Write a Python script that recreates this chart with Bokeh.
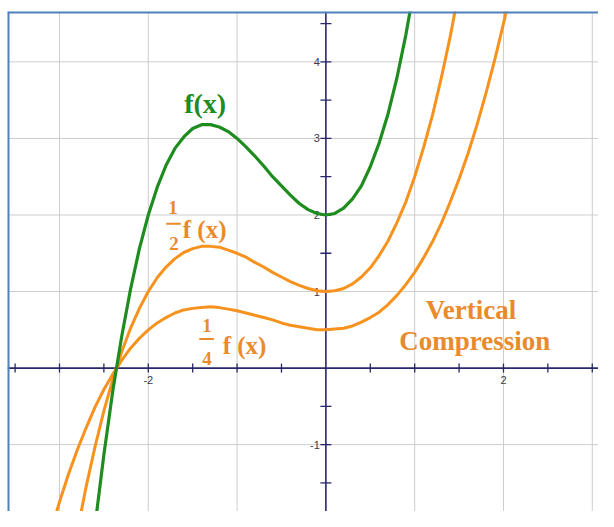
import math
from bokeh.plotting import figure
from bokeh.models import Span, Label
from bokeh.core.properties import value
from bokeh.embed import file_html
from bokeh.resources import INLINE

# ---- data ----
x_f = [-2.7, -2.6, -2.5, -2.4, -2.3, -2.2, -2.1, -2.0, -1.9, -1.8, -1.7, -1.6, -1.5,
       -1.4, -1.3, -1.2, -1.1, -1.0, -0.9, -0.8, -0.7, -0.6, -0.5, -0.4, -0.3, -0.2,
       -0.1, 0.0, 0.1, 0.2, 0.3, 0.4, 0.5, 0.6, 0.7, 0.8, 0.9, 1.0]
y_f = [-3.10, -2.06, -1.13, -0.30, 0.41, 1.03, 1.56, 2.00, 2.36, 2.65, 2.87, 3.02, 3.13,
       3.18, 3.18, 3.15, 3.09, 3.00, 2.89, 2.77, 2.64, 2.50, 2.38, 2.26, 2.15, 2.07,
       2.02, 2.00, 2.02, 2.09, 2.21, 2.38, 2.63, 2.94, 3.32, 3.79, 4.35, 5.00]

x_half = [-2.9, -2.8, -2.7, -2.6, -2.5, -2.4, -2.3, -2.2, -2.1, -2.0, -1.9, -1.8, -1.7,
          -1.6, -1.5, -1.4, -1.3, -1.2, -1.1, -1.0, -0.9, -0.8, -0.7, -0.6, -0.5, -0.4,
          -0.3, -0.2, -0.1, 0.0, 0.1, 0.2, 0.3, 0.4, 0.5, 0.6, 0.7, 0.8, 0.9, 1.0, 1.1,
          1.2, 1.3, 1.4, 1.5]
y_half = [-2.78, -2.14, -1.55, -1.03, -0.56, -0.15, 0.21, 0.52, 0.78, 1.00, 1.18, 1.32, 1.43,
          1.51, 1.56, 1.59, 1.59, 1.58, 1.54, 1.50, 1.45, 1.38, 1.32, 1.25, 1.19, 1.13,
          1.08, 1.04, 1.01, 1.00, 1.01, 1.04, 1.10, 1.19, 1.31, 1.47, 1.66, 1.90, 2.17, 2.50, 2.88,
          3.30, 3.79, 4.33, 4.94]

x_quarter = [-3.1, -3.0, -2.9, -2.8, -2.7, -2.6, -2.5, -2.4, -2.3, -2.2, -2.1, -2.0, -1.9,
             -1.8, -1.7, -1.6, -1.5, -1.4, -1.3, -1.2, -1.1, -1.0, -0.9, -0.8, -0.7, -0.6,
             -0.5, -0.4, -0.3, -0.2, -0.1, 0.0, 0.1, 0.2, 0.3, 0.4, 0.5, 0.6, 0.7, 0.8, 0.9,
             1.0, 1.1, 1.2, 1.3, 1.4, 1.5, 1.6, 1.7, 1.8, 1.9, 2.0, 2.1]
y_quarter = [-2.14, -1.75, -1.39, -1.07, -0.78, -0.51, -0.28, -0.08, 0.10, 0.26, 0.39, 0.50, 0.59,
             0.66, 0.72, 0.76, 0.78, 0.79, 0.80, 0.79, 0.77, 0.75, 0.72, 0.69, 0.66, 0.63,
             0.59, 0.56, 0.54, 0.52, 0.50, 0.50, 0.51, 0.52, 0.55, 0.60, 0.66, 0.73, 0.83, 0.95, 1.09,
             1.25, 1.44, 1.65, 1.89, 2.17, 2.47, 2.80, 3.17, 3.58, 4.02, 4.50, 5.02]

grid_x = [-3, -2, -1, 1, 2, 3]
grid_y = [-1, 1, 2, 3, 4]
x_ticks = [-3.5, -3.0, -2.5, -2.0, -1.5, -1.0, -0.5, 0.5, 1.0, 1.5, 2.0, 2.5, 3.0]
y_ticks = [-1.5, -1.0, -0.5, 0.5, 1.0, 1.5, 2.0, 2.5, 3.0, 3.5, 4.0, 4.5]
x_label_pos = [-2, 2]
x_label_txt = ["-2", "2"]
y_label_pos = [4, 3, 2, 1, -1]
y_label_txt = ["4", "3", "2", "1", "-1"]

# ---- styling ----
GREEN = "#1E8C1E"
ORANGE = "#F7921E"
ORANGE_TXT = "#E98A2C"
NAVY = "#27276A"
GRID = "#CDCDCD"
BORDER = "#4F81BD"

W, H = 598, 511
REF_W, REF_H = 614, 527
SX, SY = W / REF_W, H / REF_H

# reference mapping: x = 0 at 334px (91.2 px/unit), y = 0 at 379px (79 px/unit)
def px(xp):
    return (xp - 334) / 91.2

def py(yp):
    return (379 - yp) / 79.0

LEFT, TOP = 7, 11  # reference pixel position of the blue frame border
x_start, x_end = px(LEFT), px(REF_W)
y_start, y_end = py(REF_H), py(TOP)

p = figure(width=W, height=H, output_backend="svg", toolbar_location=None,
           x_range=(x_start, x_end), y_range=(y_start, y_end),
           x_axis_type=None, y_axis_type=None,
           min_border_left=round(LEFT * SX), min_border_right=0,
           min_border_top=round(TOP * SY), min_border_bottom=0)
p.outline_line_color = None
p.background_fill_color = "white"
p.border_fill_color = "white"

for gx in grid_x:
    p.add_layout(Span(location=gx, dimension="height", line_color=GRID, line_width=1, level="underlay"))
for gy in grid_y:
    p.add_layout(Span(location=gy, dimension="width", line_color=GRID, line_width=1, level="underlay"))
p.add_layout(Span(location=0, dimension="height", line_color=NAVY, line_width=1.6, level="underlay"))
p.add_layout(Span(location=0, dimension="width", line_color=NAVY, line_width=1.6, level="underlay"))

# frame border (top and left)
p.add_layout(Span(location=y_end, dimension="width", line_color=BORDER, line_width=4))
p.add_layout(Span(location=x_start, dimension="height", line_color=BORDER, line_width=4))

# ticks
p.scatter(x=x_ticks, y=[0] * len(x_ticks), marker="dash", size=9, angle=math.pi / 2,
          line_color=NAVY, line_width=1.3)
p.scatter(x=[0] * len(y_ticks), y=y_ticks, marker="dash", size=11,
          line_color=NAVY, line_width=1.3)

# tick labels
p.text(x=x_label_pos, y=[0] * len(x_label_pos), text=x_label_txt, text_align="center",
       text_baseline="top", y_offset=8, text_font=value("Liberation Sans"),
       text_font_size="11px", text_color="#3A3A48")
p.text(x=[0] * len(y_label_pos), y=y_label_pos, text=y_label_txt, text_align="right",
       text_baseline="middle", x_offset=-6, text_font=value("Liberation Sans"),
       text_font_size="11px", text_color="#3A3A48")

# curves
p.line(x_quarter, y_quarter, line_color=ORANGE, line_width=3, line_join="round")
p.line(x_half, y_half, line_color=ORANGE, line_width=3, line_join="round")
p.line(x_f, y_f, line_color=GREEN, line_width=3.2, line_join="round")

def lab(x, y, text, color, size, align="center", baseline="middle"):
    p.add_layout(Label(x=x, y=y, text=text, text_color=color, text_font="Liberation Serif",
                       text_font_style="bold", text_font_size=size, text_align=align,
                       text_baseline=baseline))

lab(px(210), py(106), "f(x)", GREEN, "28px")
# 1/2 f(x)
lab(px(177), py(213), "1", ORANGE_TXT, "19px")
lab(px(178), py(250), "2", ORANGE_TXT, "19px")
p.segment(x0=[px(170)], y0=[py(230)], x1=[px(185)], y1=[py(230)], line_color=ORANGE_TXT, line_width=2)
lab(px(187), py(236), "f (x)", ORANGE_TXT, "25px", align="left")
# 1/4 f(x)
lab(px(212), py(335), "1", ORANGE_TXT, "19px")
lab(px(212), py(369), "4", ORANGE_TXT, "19px")
p.segment(x0=[px(204)], y0=[py(349)], x1=[px(219)], y1=[py(349)], line_color=ORANGE_TXT, line_width=2)
lab(px(228), py(356), "f (x)", ORANGE_TXT, "25px", align="left")
# Vertical Compression
lab(px(483), py(319), "Vertical", ORANGE_TXT, "27px")
lab(px(487), py(351), "Compression", ORANGE_TXT, "27px")

open("out.html", "w").write(file_html(p, INLINE))
